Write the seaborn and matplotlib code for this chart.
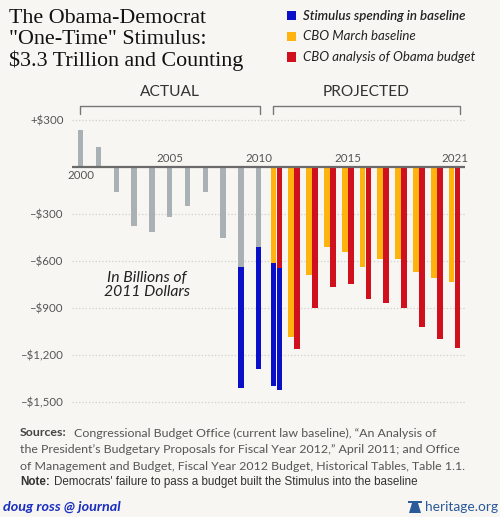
import pandas as pd
import matplotlib
matplotlib.use("Agg")
import matplotlib.pyplot as plt
import seaborn as sns
from matplotlib.lines import Line2D
from matplotlib.patches import Rectangle, Polygon

# data (billions of 2011 dollars)
actual_years = list(range(2000, 2011))
actual_deficit = [234, 128, -160, -379, -415, -319, -251, -160, -458, -1415, -1290]
stim_actual_years = [2009, 2010]
stim_actual_start = [-638, -511]

proj_years = list(range(2011, 2022))
march_baseline = [-1400, -1085, -692, -515, -543, -638, -592, -587, -670, -713, -734]
obama_budget = [-1426, -1166, -904, -766, -749, -845, -872, -904, -1024, -1102, -1160]
stim_proj_years = [2011]
stim_march_start = [-617]
stim_obama_start = [-649]

ytick_vals = [300, -300, -600, -900, -1200, -1500]
ytick_labels = ["+$300", "\u2013$300", "\u2013$600", "\u2013$900", "\u2013$1,200", "\u2013$1,500"]
year_labels = [2000, 2005, 2010, 2015, 2021]

BG = "#f7f6f2"
GRAY = "#a9b1b5"
BLUE = "#0a10c8"
ORANGE = "#ffb30f"
RED = "#d0101c"
TXT = "#555555"

sns.set_style("white")
plt.rcParams["font.family"] = ["Lato", "DejaVu Sans"]

W, H = 500, 517
fig = plt.figure(figsize=(5, 5.17), dpi=100, facecolor=BG)


def fx(px):
    return px / W


def fy(py):
    return 1 - py / H


ax = fig.add_axes([fx(72), fy(410), fx(465) - fx(72), (410 - 110) / H])
ax.set_facecolor(BG)


def bars(xs, ys, color, width):
    df = pd.DataFrame({"x": xs, "y": ys})
    sns.barplot(data=df, x="x", y="y", native_scale=True, orient="x",
                width=width, color=color, saturation=1, errorbar=None,
                linewidth=0, ax=ax)


off = 0.17
# blue stimulus parts drawn first, the rest on top
stim_totals = [actual_deficit[actual_years.index(y)] for y in stim_actual_years]
bars(stim_actual_years, stim_totals, BLUE, 0.3)
bars([y - off for y in stim_proj_years],
     [march_baseline[proj_years.index(y)] for y in stim_proj_years], BLUE, 0.32)
bars([y + off for y in stim_proj_years],
     [obama_budget[proj_years.index(y)] for y in stim_proj_years], BLUE, 0.32)

gray_vals = list(actual_deficit)
for y, s in zip(stim_actual_years, stim_actual_start):
    gray_vals[actual_years.index(y)] = s
march_vals = list(march_baseline)
obama_vals = list(obama_budget)
for y, s1, s2 in zip(stim_proj_years, stim_march_start, stim_obama_start):
    march_vals[proj_years.index(y)] = s1
    obama_vals[proj_years.index(y)] = s2

bars(actual_years, gray_vals, GRAY, 0.3)
bars([y - off for y in proj_years], march_vals, ORANGE, 0.32)
bars([y + off for y in proj_years], obama_vals, RED, 0.32)

ax.set_xlim(1999.51, 2021.59)
ax.set_ylim(-1553, 362)
ax.set_yticks(ytick_vals)
ax.set_yticklabels(ytick_labels, color=TXT, fontsize=8.3)
ax.tick_params(axis="y", length=0, pad=6)
ax.set_xticks([])
ax.set_xlabel("")
ax.set_ylabel("")
ax.yaxis.grid(True, linestyle=":", color="#cfcfcf", linewidth=0.9)
ax.set_axisbelow(True)
for s in ax.spines.values():
    s.set_visible(False)
ax.axhline(0, color="#6a6a6a", linewidth=1.6, zorder=3)

for yr in year_labels:
    if yr == 2000:
        ax.text(yr, -18, str(yr), ha="center", va="top", fontsize=8.3, color=TXT)
    else:
        ax.text(yr, 18, str(yr), ha="center", va="bottom", fontsize=8.3, color=TXT)

ax.text(2003.7, -755, "In Billions of\n2011 Dollars", ha="center", va="center",
        fontsize=11.3, style="italic", color="#222222", linespacing=1.0)

# title
for i, line in enumerate(["The Obama-Democrat", "\"One-Time\" Stimulus:",
                          "$3.3 Trillion and Counting"]):
    fig.text(fx(9), fy(23 + i * 21.5), line, family=["Liberation Serif"],
             fontsize=15.8, color="#111111", va="baseline", ha="left")

# legend
for i, (lab, col) in enumerate([("Stimulus spending in baseline", BLUE),
                                 ("CBO March baseline", ORANGE),
                                 ("CBO analysis of Obama budget", RED)]):
    cy = 16 + i * 20.5
    fig.patches.append(Rectangle((fx(287), fy(cy + 4.5)), 9 / W, 9 / H,
                                 transform=fig.transFigure, facecolor=col,
                                 edgecolor="none"))
    fig.text(fx(303), fy(cy), lab, fontsize=9.5, style="italic",
             weight="semibold" if i == 0 else "normal",
             color="#222222", va="center", ha="left")

# ACTUAL / PROJECTED brackets
for lab, x0, x1 in [("ACTUAL", 80, 260), ("PROJECTED", 273, 460)]:
    fig.lines.append(Line2D([fx(x0), fx(x0), fx(x1), fx(x1)],
                            [fy(114), fy(106), fy(106), fy(114)],
                            transform=fig.transFigure, color="#777777", linewidth=1))
    fig.text(fx((x0 + x1) / 2), fy(92), lab, ha="center", va="center",
             fontsize=11.2, color="#333333")

# sources
fig.text(fx(20), fy(433), "Sources:", weight="bold", fontsize=8.9, color="#444444",
         va="center", ha="left")
fig.text(fx(74), fy(433), "Congressional Budget Office (current law baseline), \u201cAn Analysis of",
         fontsize=8.9, color=TXT, va="center", ha="left")
fig.text(fx(20), fy(449.5), "the President\u2019s Budgetary Proposals for Fiscal Year 2012,\u201d April 2011; and Office",
         fontsize=8.9, color=TXT, va="center", ha="left")
fig.text(fx(20), fy(466), "of Management and Budget, Fiscal Year 2012 Budget, Historical Tables, Table 1.1.",
         fontsize=8.9, color=TXT, va="center", ha="left")
fig.text(fx(20), fy(482), "Note:", weight="bold", family=["Liberation Sans"], fontsize=8.4,
         color="#333333", va="center", ha="left")
fig.text(fx(54), fy(482), "Democrats' failure to pass a budget built the Stimulus into the baseline",
         family=["Liberation Sans"], fontsize=8.4, color="#333333", va="center", ha="left")

# footer
fig.text(fx(3), fy(507), "doug ross @ journal", weight="bold", style="italic",
         fontsize=10.4, color="#1a2fc0", va="center", ha="left")
fig.text(fx(498), fy(507), "heritage.org", fontsize=9.9, color="#2a5a9a",
         va="center", ha="right")
# small bell mark next to heritage.org
fig.patches.append(Polygon([(fx(409), fy(513)), (fx(421), fy(513)), (fx(418), fy(503)),
                            (fx(412), fy(503))], closed=True, transform=fig.transFigure,
                           facecolor="#2a5a9a", edgecolor="none"))
fig.patches.append(Rectangle((fx(408), fy(503)), 14 / W, 2.5 / H,
                             transform=fig.transFigure, facecolor="#2a5a9a",
                             edgecolor="none"))

fig.savefig("out.png", dpi=100, facecolor=BG)
